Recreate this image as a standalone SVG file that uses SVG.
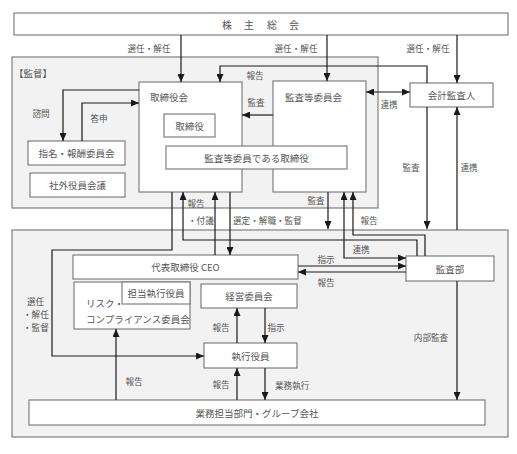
<svg xmlns="http://www.w3.org/2000/svg" width="517" height="454" viewBox="0 0 517 454">
<style>
.bg{fill:#f2f2f2;stroke:#7f7f7f;stroke-width:1.2}
.box{fill:#fff;stroke:#7f7f7f;stroke-width:1.2}
text{font-family:"Noto Sans CJK JP","Liberation Sans",sans-serif;font-size:9.5px;fill:#555;dominant-baseline:central}
.lb{font-size:8.6px}
.c{text-anchor:middle}
.ln{fill:none;stroke:#1a1a1a;stroke-width:1.2}
.a{marker-end:url(#ah)}
.d{marker-start:url(#ah);marker-end:url(#ah)}
</style>
<defs>
<marker id="ah" markerUnits="userSpaceOnUse" markerWidth="8" markerHeight="7" refX="8" refY="3.5" orient="auto-start-reverse" viewBox="0 0 8 7">
<path d="M0,0 L8,3.5 L0,7 z" fill="#1a1a1a"/>
</marker>
</defs>
<rect width="517" height="454" fill="#fff"/>

<g id="region-kantoku">
<rect class="bg" x="12" y="57" width="366" height="151"/>
<text x="14" y="73">【監督】</text>
</g>
<g id="region-shikko">
<rect class="bg" x="12" y="230" width="496" height="207"/>
</g>

<g id="kabunushi">
<rect class="box" x="14" y="13" width="494" height="22"/>
<text x="222 244 267 289" y="24" style="font-size:10px">株主総会</text>
</g>
<g id="torishimariyakukai">
<rect class="box" x="139" y="82" width="103" height="110"/>
<text x="150" y="97">取締役会</text>
</g>
<g id="torishimariyaku">
<rect class="box" x="164" y="114" width="51" height="23"/>
<text class="c" x="189.5" y="125.5">取締役</text>
</g>
<g id="kansatou-iinkai">
<rect class="box" x="273" y="81" width="93" height="111"/>
<text x="285" y="97">監査等委員会</text>
</g>
<g id="kansa-torishimariyaku">
<rect class="box" x="166" y="146" width="181" height="23"/>
<text class="c" x="256.5" y="157.5">監査等委員である取締役</text>
</g>
<g id="kaikei-kansanin">
<rect class="box" x="410" y="83" width="83" height="24"/>
<text class="c" x="451.5" y="95">会計監査人</text>
</g>
<g id="shimei-houshu">
<rect class="box" x="28" y="141" width="97" height="24"/>
<text class="c" x="76.5" y="153">指名・報酬委員会</text>
</g>
<g id="shagai-yakuin">
<rect class="box" x="30" y="173" width="95" height="24"/>
<text class="c" x="77.5" y="185">社外役員会議</text>
</g>
<g id="ceo">
<rect class="box" x="73" y="255" width="225" height="24"/>
<text class="c" x="185.5" y="267">代表取締役 CEO</text>
</g>
<g id="risk-compliance">
<rect class="box" x="74" y="282" width="116" height="47"/>
<text x="86" y="303">リスク・</text>
<text x="86" y="319">コンプライアンス委員会</text>
</g>
<g id="tantou-shikko">
<rect class="box" x="122" y="282" width="68" height="22"/>
<text class="c" x="156" y="293">担当執行役員</text>
</g>
<g id="keiei-iinkai">
<rect class="box" x="201" y="284" width="96" height="24"/>
<text class="c" x="249" y="296">経営委員会</text>
</g>
<g id="kansabu">
<rect class="box" x="406" y="256" width="88" height="25"/>
<text class="c" x="450" y="268.5">監査部</text>
</g>
<g id="shikko-yakuin">
<rect class="box" x="204" y="343" width="93" height="25"/>
<text class="c" x="250.5" y="355.5">執行役員</text>
</g>
<g id="gyomu-bumon">
<rect class="box" x="29" y="400" width="456" height="25"/>
<text class="c" x="257" y="412.5">業務担当部門・グループ会社</text>
</g>

<g id="connectors">
<path class="ln a" d="M181,35 V82"/>
<path class="ln a" d="M327,35 V81"/>
<path class="ln a" d="M457,35 V83"/>
<path class="ln a" d="M427,83 V66 H220 V82"/>
<path class="ln a" d="M273,115 H242"/>
<path class="ln d" d="M366,92 H410"/>
<path class="ln a" d="M139,90 H63 V141"/>
<path class="ln a" d="M82,141 V103 H139"/>
<path class="ln a" d="M427,107 V229"/>
<path class="ln a" d="M457,230 V107"/>
<path class="ln a" d="M417,256 V240 H183 V192"/>
<path class="ln a" d="M215,255 V192"/>
<path class="ln a" d="M230,192 V255"/>
<path class="ln a" d="M328,192 V229"/>
<path class="ln d" d="M344,192 V258 H406"/>
<path class="ln a" d="M425,256 V235 H353 V192"/>
<path class="ln a" d="M172,192 V250 H52 V356 H204"/>
<path class="ln a" d="M298,266 H406"/>
<path class="ln a" d="M406,272 H298"/>
<path class="ln a" d="M237,343 V308"/>
<path class="ln a" d="M265,308 V343"/>
<path class="ln a" d="M116,400 V329"/>
<path class="ln a" d="M237,400 V368"/>
<path class="ln a" d="M265,368 V400"/>
<path class="ln a" d="M457,281 V400"/>
</g>

<g id="labels">
<text class="lb c" x="149" y="48">選任・解任</text>
<text class="lb c" x="296" y="48">選任・解任</text>
<text class="lb c" x="428" y="48">選任・解任</text>
<text class="lb c" x="255" y="75">報告</text>
<text class="lb c" x="256" y="102">監査</text>
<text class="lb c" x="389" y="104">連携</text>
<text class="lb c" x="41" y="113">諮問</text>
<text class="lb c" x="99" y="118">答申</text>
<text class="lb c" x="411" y="167">監査</text>
<text class="lb c" x="469" y="167">連携</text>
<text class="lb c" x="196" y="203">報告</text>
<text class="lb" x="188" y="220">・付議</text>
<text class="lb" x="233" y="220">選定・解職・監督</text>
<text class="lb c" x="316" y="200">監査</text>
<text class="lb c" x="369" y="220">報告</text>
<text class="lb c" x="361" y="249">連携</text>
<text class="lb c" x="326" y="259">指示</text>
<text class="lb c" x="326" y="282">報告</text>
<text class="lb" x="27" y="301">選任</text>
<text class="lb" x="23" y="314">・解任</text>
<text class="lb" x="23" y="327">・監督</text>
<text class="lb c" x="221" y="327">報告</text>
<text class="lb c" x="276" y="327">指示</text>
<text class="lb c" x="431" y="337">内部監査</text>
<text class="lb c" x="134" y="381">報告</text>
<text class="lb c" x="221" y="384">報告</text>
<text class="lb" x="275" y="385">業務執行</text>
</g>
</svg>
